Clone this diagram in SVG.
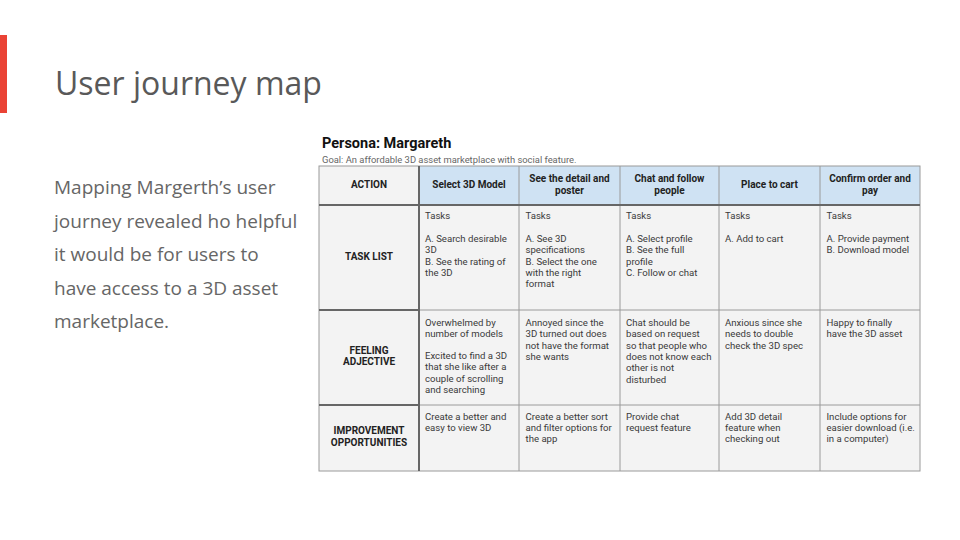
<svg xmlns="http://www.w3.org/2000/svg" width="960" height="540" viewBox="0 0 960 540">
<style>
.title{font-family:"Open Sans","Liberation Sans",sans-serif;font-size:32px;fill:#595959}
.body{font-family:"Open Sans","Liberation Sans",sans-serif;font-size:19px;fill:#666666}
.persona{font-family:Roboto,"Liberation Sans",sans-serif;font-size:14.5px;font-weight:bold;fill:#111}
.goal{font-family:Roboto,"Liberation Sans",sans-serif;font-size:9.4px;fill:#666}
.hd{font-family:Roboto,"Liberation Sans",sans-serif;font-size:10px;font-weight:bold;fill:#222;text-anchor:middle}
.tx{font-family:Roboto,"Liberation Sans",sans-serif;font-size:9.6px;fill:#3a3a3a}
.blue{fill:#cfe2f3}
.gray{fill:#f3f3f3}
.thin{stroke:#9a9a9a;stroke-width:1;fill:none}
.thick{stroke:#666;stroke-width:2;fill:none}
</style>
<rect x="0" y="0" width="960" height="540" fill="#ffffff"/>
<rect id="accent" x="0" y="35" width="7" height="78" fill="#ea4335"/>
<text id="title" class="title" x="55" y="95">User journey map</text>
<g id="summary">
<text class="body" x="54" y="194">Mapping Margerth’s user</text>
<text class="body" x="54" y="227.5">journey revealed ho helpful</text>
<text class="body" x="54" y="261">it would be for users to</text>
<text class="body" x="54" y="294.5">have access to a 3D asset</text>
<text class="body" x="54" y="328">marketplace.</text>
</g>
<g id="persona">
<text class="persona" x="322" y="148">Persona: Margareth</text>
<text class="goal" x="322" y="163">Goal: An affordable 3D asset marketplace with social feature.</text>
</g>
<g id="table-bg">
<rect class="gray" x="319" y="166" width="100" height="39"/>
<rect class="blue" x="419" y="166" width="501" height="39"/>
<rect class="gray" x="319" y="205" width="601" height="266"/>
</g>
<g id="grid">
<rect class="thin" x="319" y="166" width="601" height="305"/>
<line class="thin" x1="519" y1="166" x2="519" y2="471"/>
<line class="thin" x1="620" y1="166" x2="620" y2="471"/>
<line class="thin" x1="719" y1="166" x2="719" y2="471"/>
<line class="thin" x1="820" y1="166" x2="820" y2="471"/>
<line class="thin" x1="419" y1="310" x2="920" y2="310"/>
<line class="thin" x1="419" y1="405" x2="920" y2="405"/>
<line class="thick" x1="319" y1="310" x2="419" y2="310"/>
<line class="thick" x1="319" y1="405" x2="419" y2="405"/>
<line class="thick" x1="319" y1="205" x2="920" y2="205"/>
<line class="thick" x1="419" y1="166" x2="419" y2="471"/>
</g>
<g id="header">
<text class="hd" x="369" y="188">ACTION</text>
<text class="hd" x="469" y="188">Select 3D Model</text>
<text class="hd" x="569.5" y="182"><tspan x="569.5">See the detail and</tspan><tspan x="569.5" y="194">poster</tspan></text>
<text class="hd" x="669.5" y="182"><tspan x="669.5">Chat and follow</tspan><tspan x="669.5" y="194">people</tspan></text>
<text class="hd" x="769.5" y="188">Place to cart</text>
<text class="hd" x="870" y="182"><tspan x="870">Confirm order and</tspan><tspan x="870" y="194">pay</tspan></text>
</g>
<g id="row-tasks">
<text class="hd" x="369" y="260">TASK LIST</text>
<text class="tx" x="425" y="219"><tspan x="425">Tasks</tspan><tspan x="425" y="242">A. Search desirable</tspan><tspan x="425" y="253.3">3D</tspan><tspan x="425" y="264.6">B. See the rating of</tspan><tspan x="425" y="275.9">the 3D</tspan></text>
<text class="tx" x="525.5" y="219"><tspan x="525.5">Tasks</tspan><tspan x="525.5" y="242">A. See 3D</tspan><tspan x="525.5" y="253.3">specifications</tspan><tspan x="525.5" y="264.6">B. Select the one</tspan><tspan x="525.5" y="275.9">with the right</tspan><tspan x="525.5" y="287.2">format</tspan></text>
<text class="tx" x="626" y="219"><tspan x="626">Tasks</tspan><tspan x="626" y="242">A. Select profile</tspan><tspan x="626" y="253.3">B. See the full</tspan><tspan x="626" y="264.6">profile</tspan><tspan x="626" y="275.9">C. Follow or chat</tspan></text>
<text class="tx" x="725" y="219"><tspan x="725">Tasks</tspan><tspan x="725" y="242">A. Add to cart</tspan></text>
<text class="tx" x="826.5" y="219"><tspan x="826.5">Tasks</tspan><tspan x="826.5" y="242">A. Provide payment</tspan><tspan x="826.5" y="253.3">B. Download model</tspan></text>
</g>
<g id="row-feeling">
<text class="hd" x="369" y="354"><tspan x="369">FEELING</tspan><tspan x="369" y="365">ADJECTIVE</tspan></text>
<text class="tx" x="425" y="326"><tspan x="425">Overwhelmed by</tspan><tspan x="425" y="337.3">number of models</tspan><tspan x="425" y="359">Excited to find a 3D</tspan><tspan x="425" y="370.3">that she like after a</tspan><tspan x="425" y="381.6">couple of scrolling</tspan><tspan x="425" y="392.9">and searching</tspan></text>
<text class="tx" x="525.5" y="326"><tspan x="525.5">Annoyed since the</tspan><tspan x="525.5" y="337.3">3D turned out does</tspan><tspan x="525.5" y="348.6">not have the format</tspan><tspan x="525.5" y="359.9">she wants</tspan></text>
<text class="tx" x="626" y="326"><tspan x="626">Chat should be</tspan><tspan x="626" y="337.3">based on request</tspan><tspan x="626" y="348.6">so that people who</tspan><tspan x="626" y="359.9">does not know each</tspan><tspan x="626" y="371.2">other is not</tspan><tspan x="626" y="382.5">disturbed</tspan></text>
<text class="tx" x="725" y="326"><tspan x="725">Anxious since she</tspan><tspan x="725" y="337.3">needs to double</tspan><tspan x="725" y="348.6">check the 3D spec</tspan></text>
<text class="tx" x="826.5" y="326"><tspan x="826.5">Happy to finally</tspan><tspan x="826.5" y="337.3">have the 3D asset</tspan></text>
</g>
<g id="row-improvement">
<text class="hd" x="369" y="434"><tspan x="369">IMPROVEMENT</tspan><tspan x="369" y="446">OPPORTUNITIES</tspan></text>
<text class="tx" x="425" y="419.5"><tspan x="425">Create a better and</tspan><tspan x="425" y="430.8">easy to view 3D</tspan></text>
<text class="tx" x="525.5" y="419.5"><tspan x="525.5">Create a better sort</tspan><tspan x="525.5" y="430.8">and filter options for</tspan><tspan x="525.5" y="442.1">the app</tspan></text>
<text class="tx" x="626" y="419.5"><tspan x="626">Provide chat</tspan><tspan x="626" y="430.8">request feature</tspan></text>
<text class="tx" x="725" y="419.5"><tspan x="725">Add 3D detail</tspan><tspan x="725" y="430.8">feature when</tspan><tspan x="725" y="442.1">checking out</tspan></text>
<text class="tx" x="826.5" y="419.5"><tspan x="826.5">Include options for</tspan><tspan x="826.5" y="430.8">easier download (i.e.</tspan><tspan x="826.5" y="442.1">in a computer)</tspan></text>
</g>
<g id="connectors"/>
</svg>
